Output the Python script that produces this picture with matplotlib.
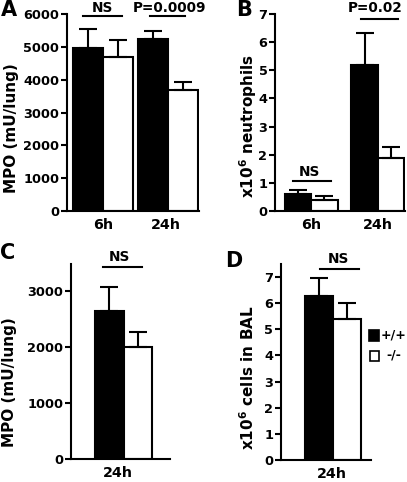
import matplotlib
matplotlib.use("Agg")
import matplotlib.pyplot as plt
from matplotlib.patches import Rectangle

plt.rcParams['font.family'] = ['DejaVu Sans']
plt.rcParams['font.weight'] = 'bold'
plt.rcParams['mathtext.fontset'] = 'dejavusans'

# panel A: MPO (mU/lung), 6h and 24h
a_wt = [4970, 5250]
a_wt_err = [580, 230]
a_ko = [4700, 3700]
a_ko_err = [520, 240]
# panel B: neutrophils x10^6
b_wt = [0.6, 5.2]
b_wt_err = [0.15, 1.13]
b_ko = [0.38, 1.9]
b_ko_err = [0.14, 0.38]
# panel C: MPO, 24h
c_wt = [2650]
c_wt_err = [430]
c_ko = [2000]
c_ko_err = [260]
# panel D: cells in BAL x10^6, 24h
d_wt = [6.28]
d_wt_err = [0.69]
d_ko = [5.38]
d_ko_err = [0.64]

time_labels = ['6h', '24h']

fig = plt.figure(figsize=(4.07, 4.82), dpi=100)
axA = fig.add_axes([0.1646, 0.562, 0.324, 0.409])
axB = fig.add_axes([0.676, 0.562, 0.319, 0.409])
axC = fig.add_axes([0.174, 0.048, 0.243, 0.404])
axD = fig.add_axes([0.690, 0.046, 0.221, 0.406])

lw = 1.5
tick_fs = 9.3
lab_fs = 11
sig_fs = 9.8


def bars(ax, xs_wt, wt, wt_err, xs_ko, ko, ko_err):
    ax.bar(xs_wt, wt, width=1, color='black', edgecolor='black', linewidth=lw)
    ax.bar(xs_ko, ko, width=1, color='white', edgecolor='black', linewidth=lw)
    ax.errorbar(xs_wt, wt, yerr=[[0] * len(wt), wt_err], fmt='none',
                ecolor='black', elinewidth=lw, capsize=6.5, capthick=lw)
    ax.errorbar(xs_ko, ko, yerr=[[0] * len(ko), ko_err], fmt='none',
                ecolor='black', elinewidth=lw, capsize=6.5, capthick=lw)


def style(ax):
    for s in ['top', 'right']:
        ax.spines[s].set_visible(False)
    for s in ['left', 'bottom']:
        ax.spines[s].set_linewidth(lw)
    ax.tick_params(axis='y', length=4, width=lw, pad=1.5, labelsize=tick_fs)
    ax.tick_params(axis='x', length=0, pad=5, labelsize=10.3)


def sig(ax, x0, x1, y, ty, tx, txt):
    ax.plot([x0, x1], [y, y], color='black', lw=lw, clip_on=False)
    ax.text(tx, ty, txt, ha='center', va='center', fontsize=sig_fs,
            fontweight='bold', clip_on=False)


# A
bars(axA, [0, 2.17], a_wt, a_wt_err, [1, 3.17], a_ko, a_ko_err)
axA.set_xlim(-0.7, 3.7)
axA.set_ylim(0, 6000)
axA.set_yticks(range(0, 6001, 1000))
axA.set_xticks([0.5, 2.6])
axA.set_xticklabels(time_labels)
axA.set_ylabel('MPO (mU/lung)', fontsize=lab_fs, fontweight='bold', va='center')
axA.yaxis.set_label_coords(-0.42, 0.42)
style(axA)
sig(axA, -0.17, 1.13, 5924, 6183, 0.48, 'NS')
sig(axA, 2.07, 3.23, 5924, 6183, 2.73, 'P=0.0009')

# B
bars(axB, [0, 2.53], b_wt, b_wt_err, [1, 3.53], b_ko, b_ko_err)
axB.set_xlim(-0.88, 4.07)
axB.set_ylim(0, 7)
axB.set_yticks(range(0, 8))
axB.set_xticks([0.5, 3.03])
axB.set_xticklabels(time_labels)
axB.set_ylabel('x10$^{\\mathbf{6}}$ neutrophils', fontsize=lab_fs,
               fontweight='bold', va='center')
axB.yaxis.set_label_coords(-0.21, 0.43)
style(axB)
sig(axB, -0.21, 1.24, 1.07, 1.39, 0.44, 'NS')
sig(axB, 2.38, 3.82, 6.82, 7.21, 2.95, 'P=0.02')

# C
bars(axC, [0], c_wt, c_wt_err, [1], c_ko, c_ko_err)
axC.set_xlim(-1.35, 2.12)
axC.set_ylim(0, 3480)
axC.set_yticks([0, 1000, 2000, 3000])
axC.set_xticks([0.3])
axC.set_xticklabels(time_labels[1:])
axC.set_ylabel('MPO (mU/lung)', fontsize=lab_fs, fontweight='bold', va='center')
axC.yaxis.set_label_coords(-0.615, 0.395)
style(axC)
sig(axC, -0.23, 1.14, 3430, 3600, 0.37, 'NS')

# D
bars(axD, [0], d_wt, d_wt_err, [1], d_ko, d_ko_err)
axD.set_xlim(-1.375, 1.84)
axD.set_ylim(0, 7.5)
axD.set_yticks(range(0, 8))
axD.set_xticks([0.45])
axD.set_xticklabels(time_labels[1:])
axD.set_ylabel('x10$^{\\mathbf{6}}$ cells in BAL', fontsize=lab_fs,
               fontweight='bold', va='center')
axD.yaxis.set_label_coords(-0.372, 0.42)
style(axD)
sig(axD, 0.02, 1.41, 7.31, 7.69, 0.7, 'NS')

# legend
fig.patches.append(Rectangle((369 / 407, 1 - 341 / 482), 10 / 407, 11 / 482,
                             transform=fig.transFigure, facecolor='black',
                             edgecolor='black', linewidth=1.2))
fig.patches.append(Rectangle((369.5 / 407, 1 - 360.5 / 482), 9 / 407, 10 / 482,
                             transform=fig.transFigure, facecolor='white',
                             edgecolor='black', linewidth=1.2))
fig.text(381 / 407, 1 - 335.5 / 482, '+/+', ha='left', va='center', fontsize=9, fontweight='bold')
fig.text(386 / 407, 1 - 355.5 / 482, '-/-', ha='left', va='center', fontsize=9, fontweight='bold')

# panel letters
for lx, ly, letter in [(9, 10, 'A'), (244, 10, 'B'), (8, 253, 'C'), (234, 261, 'D')]:
    fig.text(lx / 407, 1 - ly / 482, letter, ha='center', va='center',
             fontsize=15, fontweight='bold')

fig.savefig('out.png', dpi=100)
